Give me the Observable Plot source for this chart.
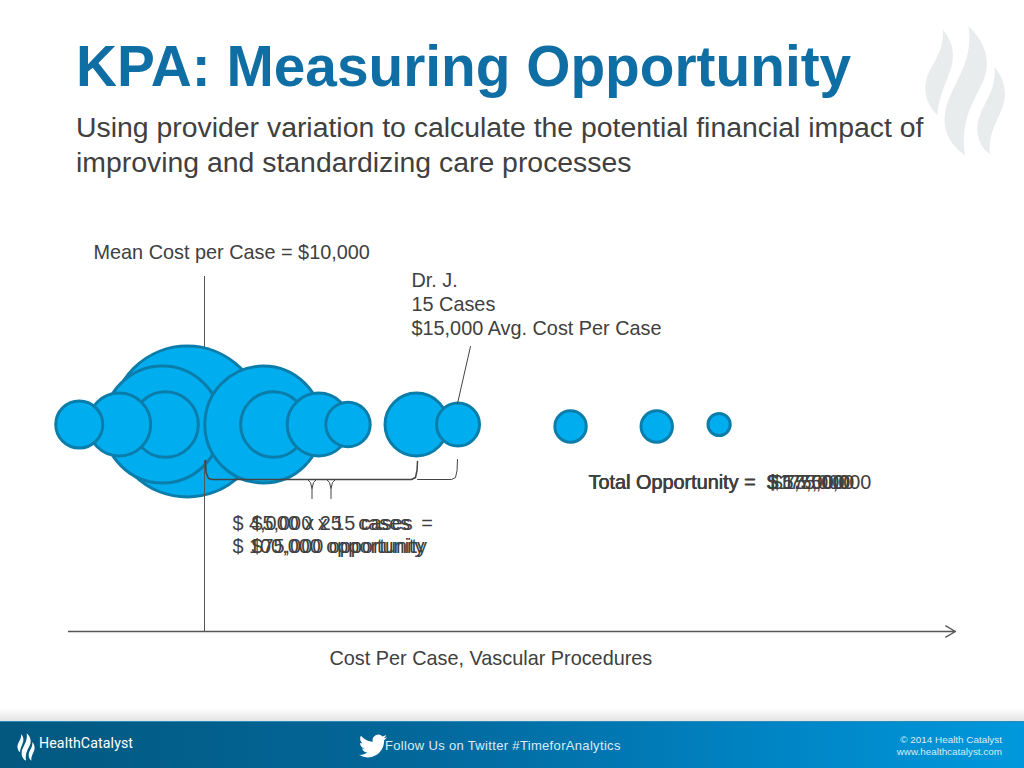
<!DOCTYPE html>
<html><head><meta charset="utf-8">
<script src="https://cdn.jsdelivr.net/npm/d3@7"></script>
<script src="https://cdn.jsdelivr.net/npm/@observablehq/plot@0.6"></script>
<style>
html,body{margin:0;padding:0;background:#fff;width:1024px;height:768px;overflow:hidden;font-family:"Liberation Sans",Arial,sans-serif}
#page{position:relative;width:1024px;height:768px;overflow:hidden}
#page>*{position:absolute}
h1{margin:0;left:76px;top:32px;font-size:56.8px;line-height:70px;font-weight:700;color:#0f6ea4;white-space:nowrap}
#sub{left:76px;top:110px;font-size:28.4px;line-height:35px;color:#404040;white-space:nowrap}
#flame{left:900px;top:10px}
#shadow{left:0;top:708px;width:1024px;height:13px;background:linear-gradient(#fff,#e4e4e4)}
#foot{left:0;top:721px;width:1024px;height:47px;background:linear-gradient(90deg,#02587f 0%,#03679a 40%,#0084c4 75%,#0098dc 100%);border-top:1px solid #2a8ab8;box-sizing:border-box;color:#dcecf5}
#foot>*{position:absolute;white-space:nowrap}
#chart{left:0;top:0}
</style></head><body>
<div id="page">
<h1>KPA: Measuring Opportunity</h1>
<div id="sub">Using provider variation to calculate the potential financial impact of<br>improving and standardizing care processes</div>
<svg id="flame" width="124" height="160" viewBox="0 0 372 480"><g fill="#e8ecec">
<path d="M128 58C150 85 162 115 158 150C152 200 118 240 112 315C85 290 70 250 78 215C88 165 135 130 128 58Z"/>
<path d="M205 48C245 85 265 130 260 175C252 245 175 300 195 435C155 410 130 365 134 320C142 230 225 170 205 48Z"/>
<path d="M283 172C308 200 318 235 314 265C306 320 262 360 270 432C245 415 230 385 232 350C238 285 292 250 283 172Z"/>
</g></svg>
<div id="shadow"></div>
<div id="foot">
<svg style="left:17px;top:11px" width="18" height="28" viewBox="70 45 250 392" preserveAspectRatio="none"><g fill="#fff">
<path d="M128 58C150 85 162 115 158 150C152 200 118 240 112 315C85 290 70 250 78 215C88 165 135 130 128 58Z"/>
<path d="M205 48C245 85 265 130 260 175C252 245 175 300 195 435C155 410 130 365 134 320C142 230 225 170 205 48Z"/>
<path d="M283 172C308 200 318 235 314 265C306 320 262 360 270 432C245 415 230 385 232 350C238 285 292 250 283 172Z"/>
</g></svg>
<div style="left:39px;top:13px;font:400 14.2px Roboto;color:#fff;letter-spacing:.1px">HealthCatalyst</div>
<svg style="left:358px;top:10px" width="30" height="28" viewBox="0 0 24 24"><path fill="#fff" d="M23.953 4.57a10 10 0 01-2.825.775 4.958 4.958 0 002.163-2.723c-.951.555-2.005.959-3.127 1.184a4.92 4.92 0 00-8.384 4.482C7.69 8.095 4.067 6.13 1.64 3.162a4.822 4.822 0 00-.666 2.475c0 1.71.87 3.213 2.188 4.096a4.904 4.904 0 01-2.228-.616v.06a4.923 4.923 0 003.946 4.827 4.996 4.996 0 01-2.212.085 4.936 4.936 0 004.604 3.417 9.867 9.867 0 01-6.102 2.105c-.39 0-.779-.023-1.17-.067a13.995 13.995 0 007.557 2.209c9.053 0 13.998-7.496 13.998-13.985 0-.21 0-.42-.015-.63A9.935 9.935 0 0024 4.59z"/></svg>
<div style="left:385px;top:16px;font:13px 'Liberation Sans';letter-spacing:.33px">Follow Us on Twitter #TimeforAnalytics</div>
<div style="right:22px;top:12px;font:9.9px 'Liberation Sans';text-align:right;line-height:12px;white-space:pre">© 2014 Health Catalyst
www.healthcatalyst.com</div>
</div>
</div>
<script>
// Providers, in drawing order
const costPerCase = [9660, 9170, 9230, 8320, 7530, 11160, 11360, 12250, 12830, 14180, 15000, 17220, 18920, 20150];
const caseCounts  = [185, 111, 35, 32, 18, 111, 35, 32, 16, 32, 15, 8, 8, 4];
const rowY        = [421, 424, 424, 424, 424, 424, 424, 424, 424, 424, 424, 426, 426, 424];
const providers = costPerCase.map((c,i)=>({cost:c,cases:caseCounts[i],row:rowY[i]}));

const meanCost = 10000, drJCost = 15000;
const xPx = [204, 457.5];
const X = px => meanCost + (px - xPx[0]) * (drJCost - meanCost) / (xPx[1] - xPx[0]);

const ink = "#404040";
const fs = 19.85;
const labels = [
  {t:"Mean Cost per Case = $10,000", x:93, y:252},
  {t:"Dr. J.", x:411, y:280},
  {t:"15 Cases", x:411, y:304},
  {t:"$15,000 Avg. Cost Per Case", x:411, y:328},
  {t:"Cost Per Case, Vascular Procedures", x:329, y:658},
  {t:"$ 4,000 x 25   cases  =", x:232, y:523},
  {t:"$ 100,000 opportunity", x:232, y:546},
  {t:"$5,000 x 15 cases", x:251, y:523},
  {t:"$75,000 opportunity", x:251, y:546},
  {t:"Total Opportunity =", x:588, y:482},
  {t:"Total Opportunity =", x:588.4, y:482},
  {t:"Total Opportunity =", x:587.8, y:482},
  {t:"$ 75,000", x:767, y:482},
  {t:"$175,000", x:767, y:482},
  {t:"$575,000", x:771, y:482},
  {t:"$ 1,750,000", x:766, y:482}
];
const brackets = [
  {w:1.5, pts:[[205,460],[205.5,472],[208,478],[212,479],[411,479],[415,477],[416.5,470],[417,461]]},
  {w:1, pts:[[417,479],[451,479],[455,477],[456.5,470],[457,459]]},
  {w:1, pts:[[307,479],[310,482],[311.5,488],[311.5,498]]},
  {w:1, pts:[[316,479],[313,482],[311.5,488]]},
  {w:1, pts:[[326,479],[329,482],[330.5,488],[330.5,498]]},
  {w:1, pts:[[335,479],[332,482],[330.5,488]]},
  {w:1, pts:[[470,346],[457,403]]}
];

const chart = Plot.plot({
  width:1024, height:768, margin:0,
  style:{background:"transparent", fontFamily:"'Liberation Sans',Arial,sans-serif", overflow:"visible"},
  x:{domain:[meanCost,drJCost], range:xPx, axis:null},
  y:{domain:[0,768], range:[0,768], axis:null},
  r:{domain:[0,185], range:[0,75.5]},
  marks:[
    Plot.ruleX([meanCost],{y1:276,y2:631,stroke:"#555",strokeWidth:1}),
    Plot.dot(providers,{x:"cost",y:"row",r:"cases",fill:"#00aeef",stroke:"#0b7dab",strokeWidth:3}),
    Plot.ruleX([meanCost],{y1:460,y2:631,stroke:"#555",strokeWidth:1}),
    ...brackets.map(b=>Plot.line(b.pts.map(p=>({x:X(p[0]),y:p[1]})),{x:"x",y:"y",stroke:"#444",strokeWidth:b.w,curve:"linear"})),
    Plot.arrow([{x1:X(68),y1:631,x2:X(955),y2:631}],{x1:"x1",y1:"y1",x2:"x2",y2:"y2",stroke:"#555",strokeWidth:1.3,headLength:13,inset:0}),
    Plot.text(labels,{x:d=>X(d.x),y:"y",text:"t",textAnchor:"start",fontSize:fs,fill:ink,lineAnchor:"middle"})
  ]
});
chart.id="chart";
document.getElementById("page").insertBefore(chart,document.getElementById("foot"));
</script>
</body></html>
